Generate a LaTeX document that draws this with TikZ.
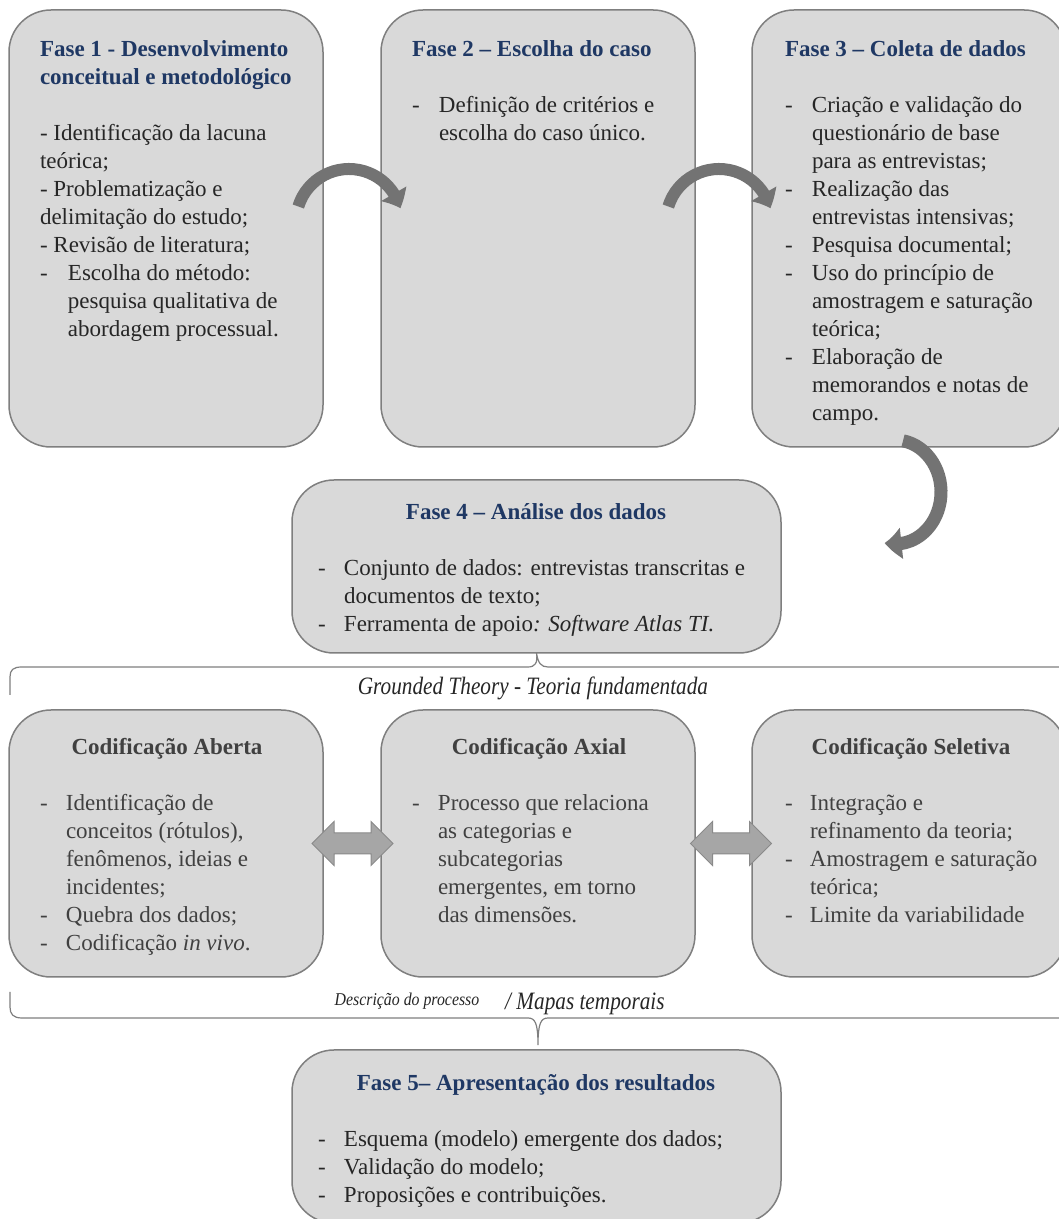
\documentclass[tikz,border=0pt]{standalone}
\usepackage{fontspec}
\usepackage{graphicx}
\setmainfont{Liberation Serif}
\usetikzlibrary{arrows.meta,bending,shapes.arrows,calc}

\definecolor{boxfill}{HTML}{D9D9D9}
\definecolor{boxline}{HTML}{7F7F7F}
\definecolor{navy}{HTML}{1F3864}
\definecolor{bodytxt}{HTML}{262626}
\definecolor{codtxt}{HTML}{404040}
\definecolor{arrowgray}{HTML}{737373}
\definecolor{dblfill}{HTML}{A6A6A6}
\definecolor{dblline}{HTML}{8A8A8A}
\definecolor{bracegray}{HTML}{7F7F7F}

% bullet helpers: dash followed by a tab stop, and the matching hanging indent
\newcommand\dashtab[1][27pt]{\makebox[#1][l]{-}}
\newcommand\hangind[1][27pt]{\hspace*{#1}}
\newcommand\lines[1]{\begin{tabular}[t]{@{}l@{}}#1\end{tabular}}

\begin{document}
\begin{tikzpicture}[x=1pt,y=1pt,
  box/.style={draw=boxline, fill=boxfill, line width=1.5pt, rounded corners=42pt,
    inner sep=0pt, outer sep=0pt},
  txt/.style={inner sep=0pt, outer sep=0pt, font=\fontsize{23}{28}\selectfont},
  fasehead/.style={txt, text=navy, font=\fontsize{23}{28}\selectfont\bfseries},
  codhead/.style={txt, text=codtxt, font=\fontsize{23}{28}\selectfont\bfseries},
  fasebody/.style={txt, text=bodytxt, anchor=base west},
  codbody/.style={txt, text=codtxt, anchor=base west},
  curved/.style={draw=arrowgray, line width=12pt,
    -{Triangle[width=28pt,length=16pt,bend]}},
  dblarrow/.style={double arrow, draw=dblline, fill=dblfill, line width=1pt,
    minimum height=81pt, double arrow head extend=11.5pt, inner sep=0pt},
  brace/.style={draw=bracegray, line width=1.2pt},
  note/.style={inner sep=0pt, text=bodytxt, anchor=base}
]
\path[use as bounding box, fill=white] (0,0) rectangle (1059,1219);

% ---- boxes ----
\node[box, minimum width=314pt, minimum height=437pt] (f1) at (166,990.5) {};
\node[box, minimum width=314pt, minimum height=437pt] (f2) at (538,990.5) {};
\node[box, minimum width=314pt, minimum height=437pt] (f3) at (909,990.5) {};
\node[box, minimum width=489pt, minimum height=173pt] (f4) at (536.5,652.5) {};
\node[box, minimum width=314pt, minimum height=267pt] (c1) at (166,375.5) {};
\node[box, minimum width=314pt, minimum height=267pt] (c2) at (538,375.5) {};
\node[box, minimum width=314pt, minimum height=267pt] (c3) at (909,375.5) {};
\node[box, minimum width=489pt, minimum height=173pt] (f5) at (536.5,82.5) {};

% ---- braces ----
\draw[brace] (10,524) -- (10,542) .. controls (10,549) and (13,552) .. (22,552)
  -- (528,552) .. controls (535,552) and (538,556) .. (f4.south)
  .. controls (538,556) and (541,552) .. (548,552) -- (1070,552);
\draw[brace] (10,227) -- (10,212) .. controls (10,205) and (13,201) .. (22,201)
  -- (528,201) .. controls (535,201) and (538,196) .. (538,174)
  .. controls (538,196) and (541,201) .. (548,201) -- (1070,201);

% ---- Fase 1 ----
\node[fasehead, anchor=base west] (f1h) at (40,1162)
  {\lines{Fase 1 - Desenvolvimento\\conceitual e metodológico}};
\node[fasebody] (f1b) at (40,1078) {\lines{%
  - Identificação da lacuna\\
  teórica;\\
  - Problematização e\\
  delimitação do estudo;\\
  - Revisão de literatura;\\
  \dashtab[28pt]Escolha do método:\\
  \hangind[28pt]pesquisa qualitativa de\\
  \hangind[28pt]abordagem processual.}};

% ---- Fase 2 ----
\node[fasehead, anchor=base west] (f2h) at (412,1162) {Fase 2 – Escolha do caso};
\node[fasebody] (f2b) at (412,1106) {\lines{%
  \dashtab Definição de critérios e\\
  \hangind escolha do caso único.}};

% ---- Fase 3 ----
\node[fasehead, anchor=base west] (f3h) at (785,1162) {Fase 3 – Coleta de dados};
\node[fasebody] (f3b) at (785,1106) {\lines{%
  \dashtab Criação e validação do\\
  \hangind questionário de base\\
  \hangind para as entrevistas;\\
  \dashtab Realização das\\
  \hangind entrevistas intensivas;\\
  \dashtab Pesquisa documental;\\
  \dashtab Uso do princípio de\\
  \hangind amostragem e saturação\\
  \hangind teórica;\\
  \dashtab Elaboração de\\
  \hangind memorandos e notas de\\
  \hangind campo.}};

% ---- Fase 4 ----
\node[fasehead, anchor=base] (f4h) at (536,699) {Fase 4 – Análise dos dados};
\node[fasebody] (f4b) at (318,643) {\lines{%
  \dashtab[26pt]Conjunto de dados: entrevistas transcritas e\\
  \hangind[26pt]documentos de texto;\\
  \dashtab[26pt]Ferramenta de apoio\textit{: Software Atlas TI.}}};

% ---- brace label ----
\node[note] (gt) at (533,524)
  {\scalebox{0.85}[1]{\fontsize{25}{30}\selectfont\itshape Grounded Theory - Teoria fundamentada}};

% ---- coding stages ----
\node[codhead, anchor=base] (c1h) at (167,464) {Codificação Aberta};
\node[codbody] (c1b) at (40,408) {\lines{%
  \dashtab[26pt]Identificação de\\
  \hangind[26pt]conceitos (rótulos),\\
  \hangind[26pt]fenômenos, ideias e\\
  \hangind[26pt]incidentes;\\
  \dashtab[26pt]Quebra dos dados;\\
  \dashtab[26pt]Codificação \textit{in vivo}.}};

\node[codhead, anchor=base] (c2h) at (539,464) {Codificação Axial};
\node[codbody] (c2b) at (412,408) {\lines{%
  \dashtab[26pt]Processo que relaciona\\
  \hangind[26pt]as categorias e\\
  \hangind[26pt]subcategorias\\
  \hangind[26pt]emergentes, em torno\\
  \hangind[26pt]das dimensões.}};

\node[codhead, anchor=base] (c3h) at (911,464) {Codificação Seletiva};
\node[codbody] (c3b) at (785,408) {\lines{%
  \dashtab[25pt]Integração e\\
  \hangind[25pt]refinamento da teoria;\\
  \dashtab[25pt]Amostragem e saturação\\
  \hangind[25pt]teórica;\\
  \dashtab[25pt]Limite da variabilidade}};

% ---- lower brace labels ----
\node[note] (dp) at (407,213)
  {\scalebox{0.88}[1]{\fontsize{18}{22}\selectfont\itshape Descrição do processo}};
\node[note, anchor=base west] (mt) at (505,209)
  {\scalebox{0.85}[1]{\fontsize{25}{30}\selectfont\itshape / Mapas temporais}};

% ---- Fase 5 ----
\node[fasehead, anchor=base] (f5h) at (536,128) {Fase 5– Apresentação dos resultados};
\node[fasebody] (f5b) at (318,72) {\lines{%
  \dashtab[26pt]Esquema (modelo) emergente dos dados;\\
  \dashtab[26pt]Validação do modelo;\\
  \dashtab[26pt]Proposições e contribuições.}};

% ---- double arrows between coding stages (shaft 20pt, heads 43pt) ----
\node[dblarrow] (d1) at (352.5,375.5) {\rule{0pt}{20pt}};
\node[dblarrow] (d2) at (731,375.5) {\rule{0pt}{20pt}};

% ---- curved arrows between phases ----
\coordinate (a1c) at (349,997);
\coordinate (a2c) at (719,997);
\coordinate (a3c) at (895,727);
\draw[curved] ($(a1c)+(163:53)$) arc[start angle=163, end angle=15, radius=53];
\draw[curved] ($(a2c)+(163:53)$) arc[start angle=163, end angle=15, radius=53];
\draw[curved, line width=13pt, -{Triangle[width=30pt,length=17pt,bend]}]
  ($(a3c)+(8,51.2)$) arc[start angle=80, end angle=-103, x radius=46, y radius=52];
\end{tikzpicture}
\end{document}
